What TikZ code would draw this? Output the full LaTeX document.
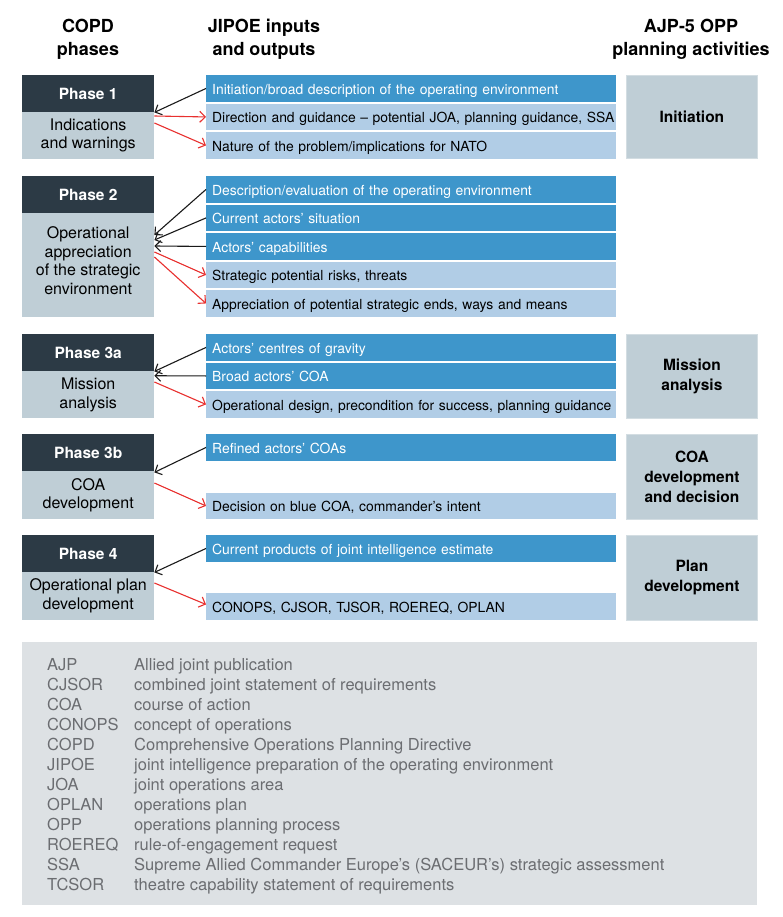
\documentclass[tikz,border=0pt]{standalone}
\usepackage{fontspec}
\setmainfont{TeX Gyre Heros}
\usetikzlibrary{arrows.meta}
\definecolor{dblue}{HTML}{3E96CB}
\definecolor{lblue}{HTML}{B1CDE6}
\definecolor{phdark}{HTML}{2C3A45}
\definecolor{phlight}{HTML}{BFCED6}
\definecolor{rbord}{HTML}{D3DDE2}
\definecolor{glossbg}{HTML}{DDE1E4}
\definecolor{glosstxt}{HTML}{6B6D71}
\definecolor{redarr}{HTML}{E8302F}
\definecolor{blk}{HTML}{1A1A1A}
\hbadness=10000 \hfuzz=50pt
\begin{document}
\begin{tikzpicture}[x=1pt,y=-1pt,
  hdr/.style={font=\bfseries\fontsize{18}{23}\selectfont, align=center, inner sep=0pt},
  rowbase/.style={anchor=north west, inner xsep=6pt, inner ysep=0pt, text width=398pt, minimum height=26.5pt, align=left, text height=12.3pt, text depth=0.7pt, font=\fontsize{13.9}{15}\selectfont},
  rowdark/.style={rowbase, fill=dblue, text=white},
  rowlight/.style={rowbase, fill=lblue, text=black},
  phhead/.style={anchor=north west, fill=phdark, text=white, minimum width=132pt, minimum height=37pt, inner sep=0pt, font=\bfseries\fontsize{15.5}{18}\selectfont},
  phbody/.style={anchor=north west, fill=phlight, text=black, minimum width=132pt, inner sep=0pt, align=center, font=\fontsize{16}{18.5}\selectfont},
  actbox/.style={anchor=north west, fill=phlight, draw=rbord, line width=0.8pt, minimum width=131pt, inner sep=0pt, align=center, font=\bfseries\fontsize{15.5}{20}\selectfont},
  barr/.style={draw=blk, line width=1.1pt, -{Straight Barb[length=5.5pt,width=11pt]}},
  rarr/.style={draw=redarr, line width=1.1pt, -{Straight Barb[length=5.5pt,width=11pt]}},
  gl/.style={anchor=base west, inner sep=0pt, text=glosstxt, font=\fontsize{16.5}{20}\selectfont}
]
\useasboundingbox (0,0) rectangle (782,917);
\fill[white] (0,0) rectangle (782,917);

% headers
\node[hdr] (h1) at (88,39.5) {COPD\\phases};
\node[hdr] (h2) at (264,39.5) {JIPOE inputs\\and outputs};
\node[hdr] (h3) at (691,39.5) {AJP-5 OPP\\planning activities};

% Phase 1
\node[phhead] (p1h) at (22,75) {Phase 1};
\node[phbody, minimum height=46.5pt] (p1b) at (22,112) {Indications\\and warnings};
\node[rowdark] (r11) at (206,75) {\mbox{Initiation/broad description of the operating environment}};
\node[rowlight] (r12) at (206,103.5) {\mbox{Direction and guidance -- potential JOA, planning guidance, SSA}};
\node[rowlight] (r13) at (206,132) {\mbox{Nature of the problem/implications for NATO}};
\node[actbox, minimum height=83.5pt] (a1) at (626,75) {Initiation};

% Phase 2
\node[phhead] (p2h) at (22,176) {Phase 2};
\node[phbody, minimum height=104pt] (p2b) at (22,213) {Operational\\appreciation\\of the strategic\\environment\\[-9pt]\mbox{}};
\node[rowdark] (r21) at (206,176) {\mbox{Description/evaluation of the operating environment}};
\node[rowdark] (r22) at (206,204.5) {\mbox{Current actors’ situation}};
\node[rowdark] (r23) at (206,233) {\mbox{Actors’ capabilities}};
\node[rowlight] (r24) at (206,261.5) {\mbox{Strategic potential risks, threats}};
\node[rowlight] (r25) at (206,290) {\mbox{Appreciation of potential strategic ends, ways and means}};

% Phase 3a
\node[phhead] (p3h) at (22,334) {Phase 3a};
\node[phbody, minimum height=47pt] (p3b) at (22,371) {Mission\\analysis};
\node[rowdark] (r31) at (206,334) {\mbox{Actors’ centres of gravity}};
\node[rowdark] (r32) at (206,362.5) {\mbox{Broad actors’ COA}};
\node[rowlight] (r33) at (206,391) {\mbox{Operational design, precondition for success, planning guidance}};
\node[actbox, minimum height=84pt] (a2) at (626,334) {Mission\\analysis};

% Phase 3b
\node[phhead] (p4h) at (22,434) {Phase 3b};
\node[phbody, minimum height=48pt] (p4b) at (22,471) {COA\\development};
\node[rowdark] (r41) at (206,434) {\mbox{Refined actors’ COAs}};
\node[rowlight] (r42) at (206,492.5) {\mbox{Decision on blue COA, commander’s intent}};
\node[actbox, minimum height=85pt] (a3) at (626,434) {COA\\development\\and decision};

% Phase 4
\node[phhead] (p5h) at (22,535) {Phase 4};
\node[phbody, minimum height=47.5pt] (p5b) at (22,572) {Operational plan\\development};
\node[rowdark] (r51) at (206,535) {\mbox{Current products of joint intelligence estimate}};
\node[rowlight] (r52) at (206,593) {\mbox{CONOPS, CJSOR, TJSOR, ROEREQ, OPLAN}};
\node[actbox, minimum height=84.5pt] (a4) at (626,535) {Plan\\development};

% arrows phase 1
\draw[barr] (r11.west) -- (p1h.south east);
\draw[rarr] ([yshift=-4pt]p1b.north east) -- (r12.west);
\draw[rarr] ([yshift=-11pt]p1b.north east) -- (r13.west);
% arrows phase 2
\draw[barr] (r21.west) -- ([yshift=-22pt]p2b.north east);
\draw[barr] (r22.west) -- ([yshift=-27pt]p2b.north east);
\draw[barr] (r23.west) -- ([yshift=-33pt]p2b.north east);
\draw[rarr] ([yshift=-39pt]p2b.north east) -- (r24.west);
\draw[rarr] ([yshift=-44pt]p2b.north east) -- (r25.west);
% arrows phase 3a
\draw[barr] (r31.west) -- (p3h.south east);
\draw[barr] (r32.west) -- ([yshift=-4.75pt]p3b.north east);
\draw[rarr] ([yshift=-11pt]p3b.north east) -- (r33.west);
% arrows phase 3b
\draw[barr] (r41.west) -- ([yshift=-1pt]p4h.south east);
\draw[rarr] ([yshift=-12pt]p4b.north east) -- (r42.west);
% arrows phase 4
\draw[barr] (r51.west) -- (p5h.south east);
\draw[rarr] ([yshift=-11pt]p5b.north east) -- ([yshift=2pt]r52.west);

% glossary
\node[anchor=north west, fill=glossbg, minimum width=735pt, minimum height=263pt, inner sep=0pt] (gbox) at (22,642) {};
\foreach \ab/\df [count=\i from 0] in {AJP/Allied joint publication,
  CJSOR/combined joint statement of requirements,
  COA/course of action,
  CONOPS/concept of operations,
  COPD/Comprehensive Operations Planning Directive,
  JIPOE/joint intelligence preparation of the operating environment,
  JOA/joint operations area,
  OPLAN/operations plan,
  OPP/operations planning process,
  ROEREQ/rule-of-engagement request,
  SSA/Supreme Allied Commander Europe’s (SACEUR’s) strategic assessment,
  TCSOR/theatre capability statement of requirements}{
  \node[gl] (ga\i) at (47,670+20*\i) {\ab};
  \node[gl] (gd\i) at (134,670+20*\i) {\df};
}
\end{tikzpicture}
\end{document}
